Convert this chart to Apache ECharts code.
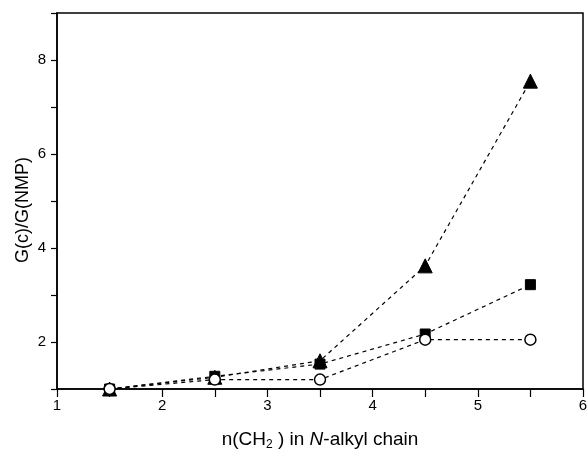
<!DOCTYPE html>
<html><head><meta charset="utf-8">
<script src="https://cdn.jsdelivr.net/npm/echarts@6/dist/echarts.min.js"></script>
<style>html,body{margin:0;padding:0;background:#fff}#c{width:587px;height:451px}</style>
</head><body><div id="c"></div>
<script>
const xValues = [1.5, 2.5, 3.5, 4.5, 5.5];
const triangleValues = [1.0, 1.25, 1.6, 3.62, 7.55];
const squareValues = [1.0, 1.27, 1.53, 2.17, 3.22];
const circleValues = [1.0, 1.2, 1.2, 2.05, 2.05];
const xTickLabels = ['1','2','3','4','5','6'];
const yTickLabels = ['2','4','6','8'];

const font = 'Liberation Sans, Arial, sans-serif';
function pts(vals){ return xValues.map((x,i)=>[x, vals[i]]); }
const lineStyle = {color:'#000', width:1.2, type:[4,4]};

const chart = echarts.init(document.getElementById('c'));
chart.setOption({
  animation:false,
  backgroundColor:'#fff',
  grid:{left:57, right:4, top:13, bottom:62, outerBoundsMode:'none', containLabel:false,
    show:true, borderColor:'#000', borderWidth:1.5, backgroundColor:'transparent'},
  xAxis:{
    type:'value', min:1, max:6, interval:0.5,
    axisLine:{show:true, lineStyle:{color:'#000', width:1.5}},
    axisTick:{show:true, length:8, lineStyle:{color:'#000', width:1.2}},
    splitLine:{show:false},
    axisLabel:{color:'#000', fontSize:15, fontFamily:font, margin:9,
      formatter:v=> xTickLabels.includes(String(v)) ? String(v) : ''},
    name:'{n|n(CH}{s|2}{n| ) in }{i|N}{n|-alkyl chain}',
    nameLocation:'middle', nameGap:40, nameMoveOverlap:false,
    nameTextStyle:{rich:{
      n:{fontSize:19, fontFamily:font, color:'#000'},
      i:{fontSize:19, fontFamily:font, color:'#000', fontStyle:'italic'},
      s:{fontSize:12, fontFamily:font, color:'#000', padding:[10,0,0,0]}
    }}
  },
  yAxis:{
    type:'value', min:1, max:9, interval:1,
    axisLine:{show:true, lineStyle:{color:'#000', width:1.5}},
    axisTick:{show:true, length:6, lineStyle:{color:'#000', width:1.2}},
    splitLine:{show:false},
    axisLabel:{color:'#000', fontSize:15, fontFamily:font, margin:11,
      formatter:v=> yTickLabels.includes(String(v)) ? String(v) : ''},
    name:'G(c)/G(NMP)', nameLocation:'middle', nameGap:25, nameRotate:90, nameMoveOverlap:false,
    nameTextStyle:{fontSize:18, fontFamily:font, color:'#000', padding:[0,18,0,0]}
  },
  series:[
    {type:'line', data:pts(triangleValues), symbol:'triangle', symbolSize:14, clip:false,
     lineStyle:lineStyle, itemStyle:{color:'#000', borderColor:'#000'}, z:2},
    {type:'line', data:pts(squareValues), symbol:'rect', symbolSize:10, clip:false,
     lineStyle:lineStyle, itemStyle:{color:'#000', borderColor:'#000'}, z:3},
    {type:'line', data:pts(circleValues), symbol:'circle', symbolSize:11, clip:false,
     lineStyle:lineStyle, itemStyle:{color:'#fff', borderColor:'#000', borderWidth:1.5}, z:4}
  ]
});
</script></body></html>
